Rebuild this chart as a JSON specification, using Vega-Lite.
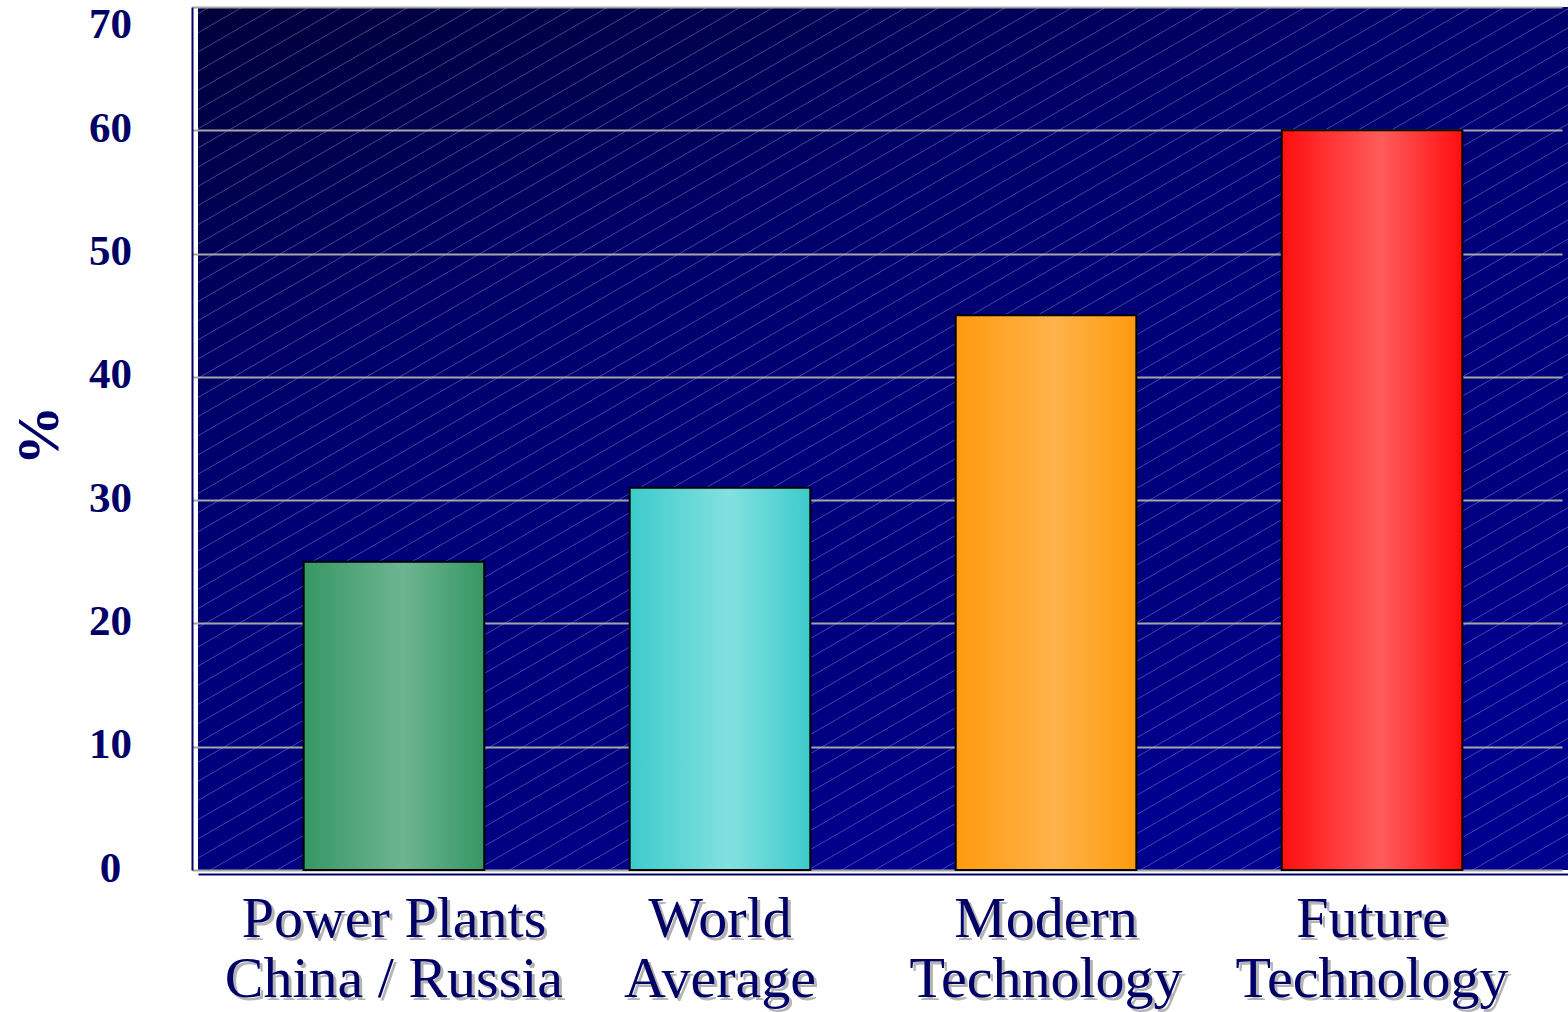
{
  "$schema": "https://vega.github.io/schema/vega-lite/v6.json",
  "width": 1370,
  "height": 863,
  "autosize": {"type": "none"},
  "padding": {"left": 198, "top": 7, "right": 0, "bottom": 142},
  "background": "white",
  "config": {
    "view": {
      "stroke": null,
      "fill": {
        "gradient": "linear", "x1": 0, "y1": 0, "x2": 0.5, "y2": 1,
        "stops": [
          {"offset": 0, "color": "#00003c"},
          {"offset": 0.12, "color": "#000048"},
          {"offset": 0.35, "color": "#000068"},
          {"offset": 0.6, "color": "#00007a"},
          {"offset": 0.85, "color": "#000080"},
          {"offset": 1, "color": "#00008e"}
        ]
      }
    },
    "axisX": {
      "domain": true, "domainColor": "#000066", "domainWidth": 2, "offset": 4,
      "labels": false, "ticks": false, "grid": false, "title": null
    },
    "axisY": {
      "domain": true, "domainColor": "#000066", "domainWidth": 2, "offset": 6,
      "ticks": false,
      "grid": true, "gridColor": "#a6a6a6", "gridWidth": 2, "gridOpacity": 1,
      "labelFont": "Liberation Serif", "labelFontWeight": "bold", "labelFontSize": 43,
      "labelColor": "#000066", "labelPadding": 82, "labelAlign": "center", "labelBaseline": "middle",
      "titleFont": "Liberation Serif", "titleFontWeight": "bold", "titleFontSize": 60,
      "titleColor": "#000066", "titlePadding": 18, "titleY": 428
    }
  },
  "data": {
    "values": [
      {"name": "Power Plants\nChina / Russia", "value": 25},
      {"name": "World\nAverage", "value": 31},
      {"name": "Modern\nTechnology", "value": 45},
      {"name": "Future\nTechnology", "value": 60}
    ]
  },
  "layer": [
    {
      "data": {"values": [{"part": "hatch"}]},
      "mark": {
        "type": "rect",
        "fill": {
          "gradient": "linear", "x1": 0, "y1": 0, "x2": 0.955, "y2": 1.041,
          "stops": [
            {"offset":0.0034,"color":"#a8a8e800"},{"offset":0.0040,"color":"#a8a8e866"},{"offset":0.0046,"color":"#a8a8e800"},
            {"offset":0.0150,"color":"#a8a8e800"},{"offset":0.0156,"color":"#a8a8e866"},{"offset":0.0162,"color":"#a8a8e800"},
            {"offset":0.0266,"color":"#a8a8e800"},{"offset":0.0272,"color":"#a8a8e866"},{"offset":0.0278,"color":"#a8a8e800"},
            {"offset":0.0382,"color":"#a8a8e800"},{"offset":0.0388,"color":"#a8a8e866"},{"offset":0.0394,"color":"#a8a8e800"},
            {"offset":0.0498,"color":"#a8a8e800"},{"offset":0.0504,"color":"#a8a8e866"},{"offset":0.0510,"color":"#a8a8e800"},
            {"offset":0.0614,"color":"#a8a8e800"},{"offset":0.0620,"color":"#a8a8e866"},{"offset":0.0626,"color":"#a8a8e800"},
            {"offset":0.0730,"color":"#a8a8e800"},{"offset":0.0736,"color":"#a8a8e866"},{"offset":0.0742,"color":"#a8a8e800"},
            {"offset":0.0846,"color":"#a8a8e800"},{"offset":0.0852,"color":"#a8a8e866"},{"offset":0.0858,"color":"#a8a8e800"},
            {"offset":0.0962,"color":"#a8a8e800"},{"offset":0.0968,"color":"#a8a8e866"},{"offset":0.0974,"color":"#a8a8e800"},
            {"offset":0.1078,"color":"#a8a8e800"},{"offset":0.1084,"color":"#a8a8e866"},{"offset":0.1090,"color":"#a8a8e800"},
            {"offset":0.1194,"color":"#a8a8e800"},{"offset":0.1200,"color":"#a8a8e866"},{"offset":0.1206,"color":"#a8a8e800"},
            {"offset":0.1310,"color":"#a8a8e800"},{"offset":0.1316,"color":"#a8a8e866"},{"offset":0.1322,"color":"#a8a8e800"},
            {"offset":0.1426,"color":"#a8a8e800"},{"offset":0.1432,"color":"#a8a8e866"},{"offset":0.1438,"color":"#a8a8e800"},
            {"offset":0.1542,"color":"#a8a8e800"},{"offset":0.1548,"color":"#a8a8e866"},{"offset":0.1554,"color":"#a8a8e800"},
            {"offset":0.1658,"color":"#a8a8e800"},{"offset":0.1664,"color":"#a8a8e866"},{"offset":0.1670,"color":"#a8a8e800"},
            {"offset":0.1774,"color":"#a8a8e800"},{"offset":0.1780,"color":"#a8a8e866"},{"offset":0.1786,"color":"#a8a8e800"},
            {"offset":0.1890,"color":"#a8a8e800"},{"offset":0.1896,"color":"#a8a8e866"},{"offset":0.1902,"color":"#a8a8e800"},
            {"offset":0.2006,"color":"#a8a8e800"},{"offset":0.2012,"color":"#a8a8e866"},{"offset":0.2018,"color":"#a8a8e800"},
            {"offset":0.2122,"color":"#a8a8e800"},{"offset":0.2128,"color":"#a8a8e866"},{"offset":0.2134,"color":"#a8a8e800"},
            {"offset":0.2238,"color":"#a8a8e800"},{"offset":0.2244,"color":"#a8a8e866"},{"offset":0.2250,"color":"#a8a8e800"},
            {"offset":0.2354,"color":"#a8a8e800"},{"offset":0.2360,"color":"#a8a8e866"},{"offset":0.2366,"color":"#a8a8e800"},
            {"offset":0.2470,"color":"#a8a8e800"},{"offset":0.2476,"color":"#a8a8e866"},{"offset":0.2482,"color":"#a8a8e800"},
            {"offset":0.2586,"color":"#a8a8e800"},{"offset":0.2592,"color":"#a8a8e866"},{"offset":0.2598,"color":"#a8a8e800"},
            {"offset":0.2702,"color":"#a8a8e800"},{"offset":0.2708,"color":"#a8a8e866"},{"offset":0.2714,"color":"#a8a8e800"},
            {"offset":0.2818,"color":"#a8a8e800"},{"offset":0.2824,"color":"#a8a8e866"},{"offset":0.2830,"color":"#a8a8e800"},
            {"offset":0.2934,"color":"#a8a8e800"},{"offset":0.2940,"color":"#a8a8e866"},{"offset":0.2946,"color":"#a8a8e800"},
            {"offset":0.3050,"color":"#a8a8e800"},{"offset":0.3056,"color":"#a8a8e866"},{"offset":0.3062,"color":"#a8a8e800"},
            {"offset":0.3166,"color":"#a8a8e800"},{"offset":0.3172,"color":"#a8a8e866"},{"offset":0.3178,"color":"#a8a8e800"},
            {"offset":0.3282,"color":"#a8a8e800"},{"offset":0.3288,"color":"#a8a8e866"},{"offset":0.3294,"color":"#a8a8e800"},
            {"offset":0.3398,"color":"#a8a8e800"},{"offset":0.3404,"color":"#a8a8e866"},{"offset":0.3410,"color":"#a8a8e800"},
            {"offset":0.3514,"color":"#a8a8e800"},{"offset":0.3520,"color":"#a8a8e866"},{"offset":0.3526,"color":"#a8a8e800"},
            {"offset":0.3630,"color":"#a8a8e800"},{"offset":0.3636,"color":"#a8a8e866"},{"offset":0.3642,"color":"#a8a8e800"},
            {"offset":0.3746,"color":"#a8a8e800"},{"offset":0.3752,"color":"#a8a8e866"},{"offset":0.3758,"color":"#a8a8e800"},
            {"offset":0.3862,"color":"#a8a8e800"},{"offset":0.3868,"color":"#a8a8e866"},{"offset":0.3874,"color":"#a8a8e800"},
            {"offset":0.3978,"color":"#a8a8e800"},{"offset":0.3984,"color":"#a8a8e866"},{"offset":0.3990,"color":"#a8a8e800"},
            {"offset":0.4094,"color":"#a8a8e800"},{"offset":0.4100,"color":"#a8a8e866"},{"offset":0.4106,"color":"#a8a8e800"},
            {"offset":0.4210,"color":"#a8a8e800"},{"offset":0.4216,"color":"#a8a8e866"},{"offset":0.4222,"color":"#a8a8e800"},
            {"offset":0.4326,"color":"#a8a8e800"},{"offset":0.4332,"color":"#a8a8e866"},{"offset":0.4338,"color":"#a8a8e800"},
            {"offset":0.4442,"color":"#a8a8e800"},{"offset":0.4448,"color":"#a8a8e866"},{"offset":0.4454,"color":"#a8a8e800"},
            {"offset":0.4558,"color":"#a8a8e800"},{"offset":0.4564,"color":"#a8a8e866"},{"offset":0.4570,"color":"#a8a8e800"},
            {"offset":0.4674,"color":"#a8a8e800"},{"offset":0.4680,"color":"#a8a8e866"},{"offset":0.4686,"color":"#a8a8e800"},
            {"offset":0.4790,"color":"#a8a8e800"},{"offset":0.4796,"color":"#a8a8e866"},{"offset":0.4802,"color":"#a8a8e800"},
            {"offset":0.4906,"color":"#a8a8e800"},{"offset":0.4912,"color":"#a8a8e866"},{"offset":0.4918,"color":"#a8a8e800"},
            {"offset":0.5022,"color":"#a8a8e800"},{"offset":0.5028,"color":"#a8a8e866"},{"offset":0.5034,"color":"#a8a8e800"},
            {"offset":0.5138,"color":"#a8a8e800"},{"offset":0.5144,"color":"#a8a8e866"},{"offset":0.5150,"color":"#a8a8e800"},
            {"offset":0.5254,"color":"#a8a8e800"},{"offset":0.5260,"color":"#a8a8e866"},{"offset":0.5266,"color":"#a8a8e800"},
            {"offset":0.5370,"color":"#a8a8e800"},{"offset":0.5376,"color":"#a8a8e866"},{"offset":0.5382,"color":"#a8a8e800"},
            {"offset":0.5486,"color":"#a8a8e800"},{"offset":0.5492,"color":"#a8a8e866"},{"offset":0.5498,"color":"#a8a8e800"},
            {"offset":0.5602,"color":"#a8a8e800"},{"offset":0.5608,"color":"#a8a8e866"},{"offset":0.5614,"color":"#a8a8e800"},
            {"offset":0.5718,"color":"#a8a8e800"},{"offset":0.5724,"color":"#a8a8e866"},{"offset":0.5730,"color":"#a8a8e800"},
            {"offset":0.5834,"color":"#a8a8e800"},{"offset":0.5840,"color":"#a8a8e866"},{"offset":0.5846,"color":"#a8a8e800"},
            {"offset":0.5950,"color":"#a8a8e800"},{"offset":0.5956,"color":"#a8a8e866"},{"offset":0.5962,"color":"#a8a8e800"},
            {"offset":0.6066,"color":"#a8a8e800"},{"offset":0.6072,"color":"#a8a8e866"},{"offset":0.6078,"color":"#a8a8e800"},
            {"offset":0.6182,"color":"#a8a8e800"},{"offset":0.6188,"color":"#a8a8e866"},{"offset":0.6194,"color":"#a8a8e800"},
            {"offset":0.6298,"color":"#a8a8e800"},{"offset":0.6304,"color":"#a8a8e866"},{"offset":0.6310,"color":"#a8a8e800"},
            {"offset":0.6414,"color":"#a8a8e800"},{"offset":0.6420,"color":"#a8a8e866"},{"offset":0.6426,"color":"#a8a8e800"},
            {"offset":0.6530,"color":"#a8a8e800"},{"offset":0.6536,"color":"#a8a8e866"},{"offset":0.6542,"color":"#a8a8e800"},
            {"offset":0.6646,"color":"#a8a8e800"},{"offset":0.6652,"color":"#a8a8e866"},{"offset":0.6658,"color":"#a8a8e800"},
            {"offset":0.6762,"color":"#a8a8e800"},{"offset":0.6768,"color":"#a8a8e866"},{"offset":0.6774,"color":"#a8a8e800"},
            {"offset":0.6878,"color":"#a8a8e800"},{"offset":0.6884,"color":"#a8a8e866"},{"offset":0.6890,"color":"#a8a8e800"},
            {"offset":0.6994,"color":"#a8a8e800"},{"offset":0.7000,"color":"#a8a8e866"},{"offset":0.7006,"color":"#a8a8e800"},
            {"offset":0.7110,"color":"#a8a8e800"},{"offset":0.7116,"color":"#a8a8e866"},{"offset":0.7122,"color":"#a8a8e800"},
            {"offset":0.7226,"color":"#a8a8e800"},{"offset":0.7232,"color":"#a8a8e866"},{"offset":0.7238,"color":"#a8a8e800"},
            {"offset":0.7342,"color":"#a8a8e800"},{"offset":0.7348,"color":"#a8a8e866"},{"offset":0.7354,"color":"#a8a8e800"},
            {"offset":0.7458,"color":"#a8a8e800"},{"offset":0.7464,"color":"#a8a8e866"},{"offset":0.7470,"color":"#a8a8e800"},
            {"offset":0.7574,"color":"#a8a8e800"},{"offset":0.7580,"color":"#a8a8e866"},{"offset":0.7586,"color":"#a8a8e800"},
            {"offset":0.7690,"color":"#a8a8e800"},{"offset":0.7696,"color":"#a8a8e866"},{"offset":0.7702,"color":"#a8a8e800"},
            {"offset":0.7806,"color":"#a8a8e800"},{"offset":0.7812,"color":"#a8a8e866"},{"offset":0.7818,"color":"#a8a8e800"},
            {"offset":0.7922,"color":"#a8a8e800"},{"offset":0.7928,"color":"#a8a8e866"},{"offset":0.7934,"color":"#a8a8e800"},
            {"offset":0.8038,"color":"#a8a8e800"},{"offset":0.8044,"color":"#a8a8e866"},{"offset":0.8050,"color":"#a8a8e800"},
            {"offset":0.8154,"color":"#a8a8e800"},{"offset":0.8160,"color":"#a8a8e866"},{"offset":0.8166,"color":"#a8a8e800"},
            {"offset":0.8270,"color":"#a8a8e800"},{"offset":0.8276,"color":"#a8a8e866"},{"offset":0.8282,"color":"#a8a8e800"},
            {"offset":0.8386,"color":"#a8a8e800"},{"offset":0.8392,"color":"#a8a8e866"},{"offset":0.8398,"color":"#a8a8e800"},
            {"offset":0.8502,"color":"#a8a8e800"},{"offset":0.8508,"color":"#a8a8e866"},{"offset":0.8514,"color":"#a8a8e800"},
            {"offset":0.8618,"color":"#a8a8e800"},{"offset":0.8624,"color":"#a8a8e866"},{"offset":0.8630,"color":"#a8a8e800"},
            {"offset":0.8734,"color":"#a8a8e800"},{"offset":0.8740,"color":"#a8a8e866"},{"offset":0.8746,"color":"#a8a8e800"},
            {"offset":0.8850,"color":"#a8a8e800"},{"offset":0.8856,"color":"#a8a8e866"},{"offset":0.8862,"color":"#a8a8e800"},
            {"offset":0.8966,"color":"#a8a8e800"},{"offset":0.8972,"color":"#a8a8e866"},{"offset":0.8978,"color":"#a8a8e800"},
            {"offset":0.9082,"color":"#a8a8e800"},{"offset":0.9088,"color":"#a8a8e866"},{"offset":0.9094,"color":"#a8a8e800"},
            {"offset":0.9198,"color":"#a8a8e800"},{"offset":0.9204,"color":"#a8a8e866"},{"offset":0.9210,"color":"#a8a8e800"},
            {"offset":0.9314,"color":"#a8a8e800"},{"offset":0.9320,"color":"#a8a8e866"},{"offset":0.9326,"color":"#a8a8e800"},
            {"offset":0.9430,"color":"#a8a8e800"},{"offset":0.9436,"color":"#a8a8e866"},{"offset":0.9442,"color":"#a8a8e800"},
            {"offset":0.9546,"color":"#a8a8e800"},{"offset":0.9552,"color":"#a8a8e866"},{"offset":0.9558,"color":"#a8a8e800"},
            {"offset":0.9662,"color":"#a8a8e800"},{"offset":0.9668,"color":"#a8a8e866"},{"offset":0.9674,"color":"#a8a8e800"},
            {"offset":0.9778,"color":"#a8a8e800"},{"offset":0.9784,"color":"#a8a8e866"},{"offset":0.9790,"color":"#a8a8e800"},
            {"offset":0.9894,"color":"#a8a8e800"},{"offset":0.9900,"color":"#a8a8e866"},{"offset":0.9906,"color":"#a8a8e800"}
          ]
        }
      },
      "encoding": {}
    },
    {
      "transform": [{"filter": "datum.value == 25"}],
      "mark": {
        "type": "bar", "stroke": "#000000", "strokeWidth": 2,
        "fill": {"gradient": "linear", "x1": 0, "y1": 0, "x2": 1, "y2": 0,
          "stops": [{"offset": 0, "color": "#369764"}, {"offset": 0.55, "color": "#6db592"}, {"offset": 1, "color": "#369764"}]}
      },
      "encoding": {
        "x": {"field": "name", "type": "nominal", "sort": null, "title": null,
          "scale": {"domain": ["Power Plants\nChina / Russia", "World\nAverage", "Modern\nTechnology", "Future\nTechnology"], "paddingInner": 0.446, "paddingOuter": 0.324}},
        "y": {"field": "value", "type": "quantitative", "title": "%",
          "scale": {"domain": [0, 70], "nice": false, "zero": true},
          "axis": {"values": [0, 10, 20, 30, 40, 50, 60, 70],
            "labelOffset": {"condition": {"test": "datum.value == 70", "value": 17}, "value": -2}}}
      }
    },
    {
      "transform": [{"filter": "datum.value == 31"}],
      "mark": {
        "type": "bar", "stroke": "#000000", "strokeWidth": 2,
        "fill": {"gradient": "linear", "x1": 0, "y1": 0, "x2": 1, "y2": 0,
          "stops": [{"offset": 0, "color": "#3dcbcb"}, {"offset": 0.55, "color": "#82e1df"}, {"offset": 1, "color": "#3dcbcb"}]}
      },
      "encoding": {
        "x": {"field": "name", "type": "nominal", "sort": null, "title": null},
        "y": {"field": "value", "type": "quantitative", "title": "%"}
      }
    },
    {
      "transform": [{"filter": "datum.value == 45"}],
      "mark": {
        "type": "bar", "stroke": "#000000", "strokeWidth": 2,
        "fill": {"gradient": "linear", "x1": 0, "y1": 0, "x2": 1, "y2": 0,
          "stops": [{"offset": 0, "color": "#ff9a0e"}, {"offset": 0.55, "color": "#ffb34a"}, {"offset": 1, "color": "#ff9a0e"}]}
      },
      "encoding": {
        "x": {"field": "name", "type": "nominal", "sort": null, "title": null},
        "y": {"field": "value", "type": "quantitative", "title": "%"}
      }
    },
    {
      "transform": [{"filter": "datum.value == 60"}],
      "mark": {
        "type": "bar", "stroke": "#000000", "strokeWidth": 2,
        "fill": {"gradient": "linear", "x1": 0, "y1": 0, "x2": 1, "y2": 0,
          "stops": [{"offset": 0, "color": "#ff0e0e"}, {"offset": 0.55, "color": "#ff5c5c"}, {"offset": 1, "color": "#ff0e0e"}]}
      },
      "encoding": {
        "x": {"field": "name", "type": "nominal", "sort": null, "title": null},
        "y": {"field": "value", "type": "quantitative", "title": "%"}
      }
    },
    {
      "mark": {"type": "text", "font": "Liberation Serif", "fontSize": 58, "lineHeight": 60,
        "lineBreak": "\n", "baseline": "alphabetic", "align": "center", "color": "#b4b4b4", "dx": 3, "dy": 3},
      "encoding": {
        "x": {"field": "name", "type": "nominal", "sort": null, "title": null},
        "y": {"datum": -5.45, "type": "quantitative", "title": "%"},
        "text": {"field": "name"}
      }
    },
    {
      "mark": {"type": "text", "font": "Liberation Serif", "fontSize": 58, "lineHeight": 60,
        "lineBreak": "\n", "baseline": "alphabetic", "align": "center", "color": "#000066"},
      "encoding": {
        "x": {"field": "name", "type": "nominal", "sort": null, "title": null},
        "y": {"datum": -5.45, "type": "quantitative", "title": "%"},
        "text": {"field": "name"}
      }
    }
  ]
}
